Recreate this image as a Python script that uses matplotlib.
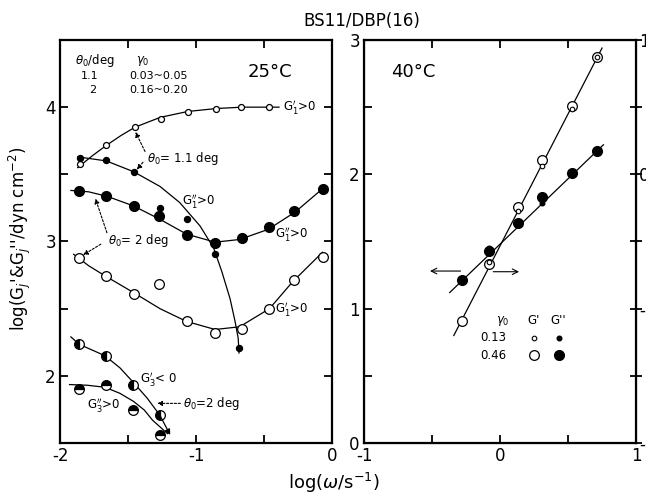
#!/usr/bin/env python3
"""
Redraw of the BS11/DBP(16) dynamic modulus figure (25 C and 40 C panels).

Output:
    out.png
"""

import matplotlib

matplotlib.use("Agg")

import matplotlib.pyplot as plt


# ---- 25 C panel, theta0 = 1.1 deg ----
LOGW_11_P = [-1.85, -1.66, -1.45, -1.26, -1.06, -0.85, -0.67, -0.46]
G1P_11 = [3.58, 3.715, 3.855, 3.915, 3.965, 3.99, 4.0, 4.0]
LOGW_11_PP = [-1.85, -1.66, -1.455, -1.265, -1.065, -0.86, -0.685]
G1PP_11 = [3.625, 3.61, 3.52, 3.25, 3.165, 2.905, 2.21]

# ---- 25 C panel, theta0 = 2 deg ----
LOGW_2 = [-1.86, -1.665, -1.455, -1.27, -1.065, -0.86, -0.665, -0.465, -0.28, -0.065]
G1PP_2 = [3.375, 3.335, 3.265, 3.19, 3.05, 2.99, 3.025, 3.105, 3.225, 3.39]
G1P_2 = [2.88, 2.745, 2.61, 2.68, 2.405, 2.32, 2.35, 2.5, 2.715, 2.885]
LOGW_3 = [-1.86, -1.665, -1.46, -1.265]
G3P_2 = [2.235, 2.15, 1.935, 1.705]
G3PP_2 = [1.9, 1.93, 1.745, 1.56]

# hand drawn guide curves of the 25 C panel
CURVE_G1P_11_X = [-1.87, -1.76, -1.66, -1.55, -1.45, -1.35, -1.26, -1.06, -0.85, -0.66, -0.39]
CURVE_G1P_11_Y = [3.55, 3.64, 3.715, 3.79, 3.85, 3.89, 3.925, 3.968, 3.99, 4.0, 4.0]
CURVE_G1PP_11_X = [-1.87, -1.66, -1.46, -1.265, -1.12, -0.97, -0.90, -0.875, -0.81, -0.75, -0.713, -0.69, -0.684]
CURVE_G1PP_11_Y = [3.63, 3.60, 3.52, 3.41, 3.29, 3.115, 3.0, 2.965, 2.775, 2.575, 2.405, 2.28, 2.17]
CURVE_G1PP_2_X = [-1.92, -1.79, -1.65, -1.46, -1.265, -1.07, -0.86, -0.68, -0.47, -0.27, -0.05]
CURVE_G1PP_2_Y = [3.38, 3.37, 3.335, 3.265, 3.165, 3.055, 2.995, 3.015, 3.09, 3.22, 3.41]
CURVE_G1P_2_X = [-1.90, -1.79, -1.67, -1.46, -1.265, -1.07, -0.86, -0.68, -0.46, -0.29, -0.07]
CURVE_G1P_2_Y = [2.905, 2.82, 2.745, 2.62, 2.50, 2.405, 2.345, 2.365, 2.50, 2.70, 2.92]
CURVE_G3P_2_X = [-1.92, -1.86, -1.67, -1.56, -1.46, -1.36, -1.265, -1.19]
CURVE_G3P_2_Y = [2.29, 2.235, 2.15, 2.06, 1.95, 1.835, 1.705, 1.56]
CURVE_G3PP_2_X = [-1.93, -1.80, -1.67, -1.56, -1.46, -1.38, -1.32, -1.21]
CURVE_G3PP_2_Y = [1.935, 1.93, 1.915, 1.87, 1.81, 1.745, 1.67, 1.57]

# ---- 40 C panel ----
LOGW_40 = [-0.28, -0.08, 0.13, 0.31, 0.53, 0.71]
GP_046 = [0.91, 1.33, 1.76, 2.11, 2.51, 2.87]
GPP_046 = [1.21, 1.43, 1.64, 1.83, 2.01, 2.17]
LOGW_40_S = [-0.08, 0.13, 0.31, 0.53, 0.71]
GP_013 = [1.35, 1.73, 2.06, 2.49, 2.87]
GPP_013 = [1.45, 1.62, 1.79, 2.0, 2.18]
LINE_GP_X = [-0.34, 0.75]
LINE_GP_Y = [0.80, 2.94]
LINE_GPP_X = [-0.37, 0.76]
LINE_GPP_Y = [1.12, 2.22]

BIG = 7.0
SMALL = 4.3
LW = 0.9


def tick_text(values):
    # the original prints a short hyphen, not a typographic minus
    return [f"{v:g}".replace("\u2212", "-") for v in values]


def style_axis(ax, xlim, ylim, xmajor, xminor, ymajor, yminor, right_ticks=True):
    ax.set_xlim(*xlim)
    ax.set_ylim(*ylim)
    ax.set_xticks(xmajor)
    ax.set_xticks(xminor, minor=True)
    ax.set_yticks(ymajor)
    ax.set_yticks(yminor, minor=True)
    ax.set_xticklabels(tick_text(xmajor))
    ax.set_yticklabels(tick_text(ymajor))
    for which in ("major", "minor"):
        ax.tick_params(which=which, direction="in", length=6, width=1.3,
                       top=True, right=right_ticks, labelsize=12, pad=3)
    for spine in ax.spines.values():
        spine.set_linewidth(1.6)


def dashed_arrow(ax, start, end):
    ax.annotate("", xy=end, xytext=start,
                arrowprops=dict(arrowstyle="-|>", linestyle=(0, (2, 1.5)), lw=0.8,
                                color="black", mutation_scale=7, shrinkA=0, shrinkB=0))


def plot_25c(ax):
    style_axis(ax, (-2, 0), (1.5, 4.5), [-2, -1, 0], [-1.5, -0.5], [2, 3, 4], [2.5, 3.5])

    # guide curves
    ax.plot(CURVE_G1P_11_X, CURVE_G1P_11_Y, color="black", lw=LW)
    ax.plot(CURVE_G1PP_11_X, CURVE_G1PP_11_Y, color="black", lw=LW)
    ax.plot(CURVE_G1PP_2_X, CURVE_G1PP_2_Y, color="black", lw=LW)
    ax.plot(CURVE_G1P_2_X, CURVE_G1P_2_Y, color="black", lw=LW)
    ax.plot(CURVE_G3P_2_X[:-1], CURVE_G3P_2_Y[:-1], color="black", lw=LW)
    ax.annotate("", xy=(CURVE_G3P_2_X[-1], CURVE_G3P_2_Y[-1]),
                xytext=(CURVE_G3P_2_X[-2], CURVE_G3P_2_Y[-2]),
                arrowprops=dict(arrowstyle="-|>", lw=LW, color="black",
                                mutation_scale=8, shrinkA=0, shrinkB=0))
    ax.plot(CURVE_G3PP_2_X, CURVE_G3PP_2_Y, color="black", lw=LW)

    # theta0 = 1.1 deg
    ax.plot(LOGW_11_P, G1P_11, "o", ms=SMALL, mfc="white", mec="black", mew=0.9)
    ax.plot(LOGW_11_PP, G1PP_11, "o", ms=SMALL, color="black")
    # theta0 = 2 deg
    ax.plot(LOGW_2, G1PP_2, "o", ms=BIG, color="black")
    ax.plot(LOGW_2, G1P_2, "o", ms=BIG, mfc="white", mec="black", mew=0.9)
    ax.plot(LOGW_3, G3P_2, "o", ms=BIG, fillstyle="left", color="black",
            mfc="black", mfcalt="white", mec="black", mew=0.9)
    ax.plot(LOGW_3, G3PP_2, "o", ms=BIG, fillstyle="top", color="black",
            mfc="black", mfcalt="white", mec="black", mew=0.9)

    # header table
    ax.text(-1.89, 4.345, r"$\theta_0$/deg", fontsize=8.5, va="center")
    ax.text(-1.44, 4.345, r"$\gamma_0$", fontsize=8.5, va="center")
    ax.text(-1.78, 4.235, "1.1", fontsize=8, va="center", ha="center")
    ax.text(-1.49, 4.235, "0.03~0.05", fontsize=8, va="center")
    ax.text(-1.76, 4.13, "2", fontsize=8, va="center", ha="center")
    ax.text(-1.49, 4.13, "0.16~0.20", fontsize=8, va="center")
    ax.text(-0.62, 4.265, "25°C", fontsize=13, va="center")

    # curve labels
    ax.text(-0.36, 4.0, r"$\mathrm{G_1'}$>0", fontsize=8.5, va="center")
    ax.text(-1.10, 3.30, r"$\mathrm{G_1''}$>0", fontsize=8.5, va="center")
    ax.text(-0.42, 3.055, r"$\mathrm{G_1''}$>0", fontsize=8.5, va="center")
    ax.text(-0.42, 2.50, r"$\mathrm{G_1'}$>0", fontsize=8.5, va="center")
    ax.text(-1.41, 1.98, r"$\mathrm{G_3'}$< 0", fontsize=8.5, va="center")
    ax.text(-1.80, 1.78, r"$\mathrm{G_3''}$>0", fontsize=8.5, va="center")

    # theta0 annotations
    ax.text(-1.36, 3.62, r"$\theta_0$= 1.1 deg", fontsize=8.5, va="center")
    dashed_arrow(ax, (-1.375, 3.67), (-1.445, 3.815))
    dashed_arrow(ax, (-1.39, 3.59), (-1.435, 3.535))
    ax.text(-1.65, 3.005, r"$\theta_0$= 2 deg", fontsize=8.5, va="center")
    dashed_arrow(ax, (-1.655, 3.065), (-1.74, 3.32))
    dashed_arrow(ax, (-1.70, 2.98), (-1.83, 2.90))
    ax.text(-1.095, 1.795, r"$\theta_0$=2 deg", fontsize=8.5, va="center")
    dashed_arrow(ax, (-1.115, 1.795), (-1.285, 1.795))


def plot_40c(ax):
    style_axis(ax, (-1, 1), (0, 3), [-1, 0, 1], [-0.5, 0.5], [0, 1, 2, 3],
               [0.5, 1.5, 2.5], right_ticks=False)

    ax.plot(LINE_GP_X, LINE_GP_Y, color="black", lw=LW)
    ax.plot(LINE_GPP_X, LINE_GPP_Y, color="black", lw=LW)

    ax.plot(LOGW_40, GPP_046, "o", ms=BIG, color="black")
    ax.plot(LOGW_40_S, GPP_013, "o", ms=SMALL - 1, color="black")
    ax.plot(LOGW_40, GP_046, "o", ms=BIG, mfc="white", mec="black", mew=0.9)
    ax.plot(LOGW_40_S, GP_013, "o", ms=SMALL - 1, mfc="white", mec="black", mew=0.8)

    # arrows telling which ordinate belongs to which line
    ax.annotate("", xy=(-0.515, 1.28), xytext=(-0.29, 1.28),
                arrowprops=dict(arrowstyle="->", lw=0.8, color="black",
                                shrinkA=0, shrinkB=0))
    ax.annotate("", xy=(0.14, 1.275), xytext=(-0.05, 1.275),
                arrowprops=dict(arrowstyle="->", lw=0.8, color="black",
                                shrinkA=0, shrinkB=0))

    ax.text(-0.80, 2.765, "40°C", fontsize=13, va="center")

    # small legend table
    ax.text(0.02, 0.91, r"$\gamma_0$", fontsize=8.5, ha="center", va="center")
    ax.text(0.25, 0.91, "G'", fontsize=8.5, ha="center", va="center")
    ax.text(0.43, 0.91, "G''", fontsize=8.5, ha="center", va="center")
    ax.text(-0.05, 0.785, "0.13", fontsize=8.5, ha="center", va="center")
    ax.text(-0.05, 0.652, "0.46", fontsize=8.5, ha="center", va="center")
    ax.plot([0.25], [0.785], "o", ms=SMALL - 1, mfc="white", mec="black", mew=0.8)
    ax.plot([0.43], [0.785], "o", ms=SMALL - 1, color="black")
    ax.plot([0.25], [0.652], "o", ms=BIG, mfc="white", mec="black", mew=0.9)
    ax.plot([0.43], [0.652], "o", ms=BIG, color="black")

    # right hand ordinate for G' (cut off by the page edge in the original)
    twin = ax.twinx()
    twin.set_ylim(-2, 1)
    twin.set_yticks([-2, -1, 0, 1])
    twin.set_yticks([-1.5, -0.5, 0.5], minor=True)
    twin.set_yticklabels(tick_text([-2, -1, 0, 1]))
    for which in ("major", "minor"):
        twin.tick_params(which=which, direction="inout", length=8, width=1.3,
                         labelsize=12, pad=-2)


def main():
    plt.rcParams.update({
        "font.family": "DejaVu Sans",
        "mathtext.fontset": "dejavusans",
        "axes.unicode_minus": False,
    })

    fig = plt.figure(figsize=(6.46, 4.92), dpi=100)
    ax_left = fig.add_axes([0.0929, 0.0996, 0.4211, 0.8191])
    ax_right = fig.add_axes([0.5635, 0.0996, 0.4211, 0.8191])

    plot_25c(ax_left)
    plot_40c(ax_right)

    fig.text(0.56, 0.957, "BS11/DBP(16)", fontsize=12, ha="center", va="center")
    fig.text(0.517, 0.018, r"log($\omega$/s$^{-1}$)", fontsize=13, ha="center", va="center")
    fig.text(0.03, 0.515, r"log(G$_j$'&G$_j$''/dyn cm$^{-2}$)", fontsize=12,
             rotation=90, ha="center", va="center")

    fig.savefig("out.png", dpi=100)
    plt.close(fig)


if __name__ == "__main__":
    main()
